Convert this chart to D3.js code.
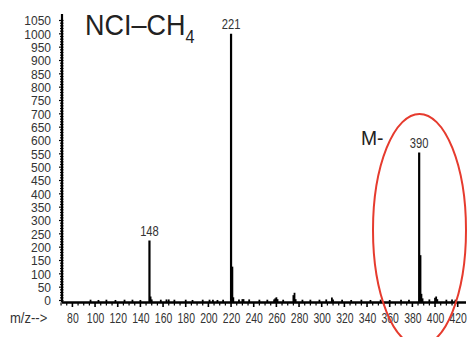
<!DOCTYPE html>
<html>
<head>
<meta charset="utf-8">
<script src="https://cdn.jsdelivr.net/npm/d3@7"></script>
<style>
  html, body { margin: 0; padding: 0; background: #fff; }
  svg { display: block; }
  text { font-family: "Liberation Sans", Arial, sans-serif; fill: #333; }
</style>
</head>
<body>
<div id="chart"></div>
<script>
// ---- data (m/z positions as placed on the drawn axis, relative abundance) ----
const mz = [96,103,110,118,126,133,140,148,149,150,158,163,165,170,180,186,195,201,204,208,213,
            220,221,222,227,230,231,236,245,252,258,259,260,261,266,275,276,277,283,290,298,304,
            309,310,318,326,335,343,352,360,370,377,386,387,388,389,395,400,401,402,410,415,418];
const intensity = [3,2,3,2,3,3,2,225,15,4,3,4,4,3,3,2,3,3,3,2,3,
                   1000,127,12,4,5,5,4,3,3,4,8,12,5,3,20,29,5,3,3,3,4,
                   11,4,3,2,3,2,3,2,3,3,555,170,25,8,4,10,15,5,3,4,3];
const xTicks = [80,100,120,140,160,180,200,220,240,260,280,300,320,340,360,380,400,420];
const yTicks = d3.range(0, 1051, 50);
const peakLabelMz = [148, 220, 386];
const peakLabelText = ["148", "221", "390"];
const titleMain = "NCI–CH";
const titleSub = "4";
const xAxisTitle = "m/z-->";
const ionLabel = "M-";

// ---- layout ----
const W = 471, H = 337;
const svg = d3.select("#chart").append("svg").attr("width", W).attr("height", H);

const x = d3.scaleLinear().domain([80, 420]).range([72.4, 457.7]);
const y = d3.scaleLinear().domain([0, 1050]).range([300.5, 20.5]);
const axisY = 302.5, axisX = 62;

// ticks on x axis
const gx = svg.append("g");
gx.selectAll("line.minor").data(d3.range(70, 421, 5)).join("line")
  .attr("x1", d => x(d)).attr("x2", d => x(d))
  .attr("y1", axisY).attr("y2", d => axisY + (d % 20 === 0 ? 4.5 : 3))
  .attr("stroke", "#000").attr("stroke-width", d => d % 20 === 0 ? 1.6 : 1.2);
gx.append("line").attr("x1", axisX).attr("x2", 466).attr("y1", axisY).attr("y2", axisY)
  .attr("stroke", "#000").attr("stroke-width", 2.5);

// x tick labels via d3 axis (line hidden)
const xAxis = d3.axisBottom(x).tickValues(xTicks).tickSize(0).tickPadding(0).tickFormat(d3.format("d"));
const gxa = svg.append("g").attr("transform", `translate(0,${axisY})`).call(xAxis);
gxa.select(".domain").remove();
gxa.selectAll("text").attr("y", 20.8).attr("dy", null)
  .attr("transform", "scale(0.72,1)")
  .style("font-size", "14.5px").style("fill", "#333")
  .style("font-family", "'Liberation Sans', Arial, sans-serif");

svg.append("text").attr("transform", "translate(10,323) scale(0.9,1)")
  .style("font-size", "14.5px").text(xAxisTitle);

// y axis
const gy = svg.append("g");
gy.selectAll("line.minor").data(d3.range(0, 1051, 10)).join("line")
  .attr("x1", d => axisX - (d % 50 === 0 ? 3 : 2)).attr("x2", axisX + 1.5)
  .attr("y1", d => y(d)).attr("y2", d => y(d))
  .attr("stroke", "#000").attr("stroke-width", 1.2);
gy.append("line").attr("x1", axisX).attr("x2", axisX).attr("y1", 14).attr("y2", axisY)
  .attr("stroke", "#000").attr("stroke-width", 2.2);

const yAxis = d3.axisLeft(y).tickValues(yTicks).tickSize(0).tickPadding(0).tickFormat(d3.format("d"));
const gya = svg.append("g").attr("transform", `translate(51,0)`).call(yAxis);
gya.select(".domain").remove();
gya.selectAll("text").attr("x", 0).attr("dy", "0.36em")
  .style("font-size", "12px").style("fill", "#333")
  .style("font-family", "'Liberation Sans', Arial, sans-serif");

// peaks
const peaks = mz.map((m, i) => ({ m, v: intensity[i] }));
svg.append("g").selectAll("line").data(peaks).join("line")
  .attr("x1", d => x(d.m)).attr("x2", d => x(d.m))
  .attr("y1", axisY).attr("y2", d => y(d.v))
  .attr("stroke", "#000").attr("stroke-width", d => d.v > 50 ? 2.2 : 1.8);

// peak labels
svg.append("g").selectAll("text").data(peakLabelMz).join("text")
  .attr("transform", d => `translate(${x(d)},${y(intensity[mz.indexOf(d)]) - 5}) scale(0.8,1)`)
  .attr("text-anchor", "middle").style("font-size", "14px")
  .text((d, i) => peakLabelText[i]);

// title
const t = svg.append("text").attr("transform", "translate(85,35) scale(0.9,1)")
  .style("font-size", "30px").style("fill", "#222");
t.append("tspan").text(titleMain);
t.append("tspan").attr("dy", 8).style("font-size", "18px").text(titleSub);

// M- label
svg.append("text").attr("transform", "translate(361,145) scale(0.92,1)")
  .style("font-size", "21px").style("fill", "#222").text(ionLabel);

// red ellipse
svg.append("ellipse").attr("cx", 419.5).attr("cy", 230).attr("rx", 46.5).attr("ry", 116)
  .attr("fill", "none").attr("stroke", "#e63b2e").attr("stroke-width", 2);
</script>
</body>
</html>
